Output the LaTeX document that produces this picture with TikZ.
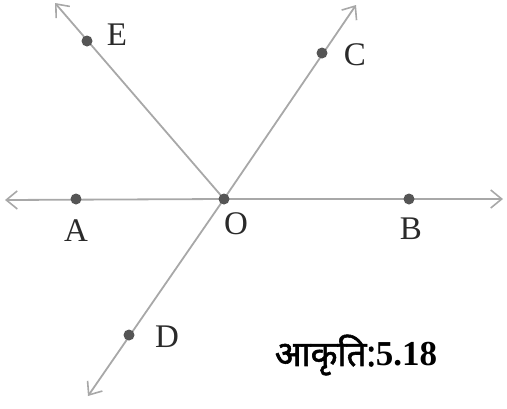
\documentclass[tikz,border=0pt]{standalone}
\usepackage{fontspec}
\setmainfont{Liberation Serif}
\newfontfamily\devfont[Script=Devanagari, FakeBold=1.6]{Noto Sans}
\usetikzlibrary{arrows.meta}
\definecolor{linegray}{HTML}{A8A8A8}
\definecolor{dotgray}{HTML}{555555}
\definecolor{textgray}{HTML}{2A2A2A}
\tikzset{
  ray/.style={draw=linegray, line width=1.8pt, -{Straight Barb[length=11pt,width=18pt,line width=1.6pt]}},
  pt/.style={circle, fill=dotgray, inner sep=0pt, minimum size=11pt},
  lbl/.style={text=textgray, font=\fontsize{33}{36}\selectfont, inner sep=0pt}
}
\begin{document}
\begin{tikzpicture}[x=1pt,y=-1pt]
\useasboundingbox (0,0) rectangle (507,408);
% points
\coordinate (O) at (224,199);
\coordinate (Lt) at (5,200);
\coordinate (Rt) at (503,199);
\coordinate (Et) at (55,3);
\coordinate (Ct) at (356,5);
\coordinate (Dt) at (88,396);
% lines
\draw[ray] (O) -- (Lt);
\draw[ray] (O) -- (Rt);
\draw[ray] (O) -- (Et);
\draw[ray] (O) -- (Ct);
\draw[ray] (O) -- (Dt);
% dots
\node[pt] (o) at (O) {};
\node[pt] (a) at (76,199) {};
\node[pt] (b) at (409,199) {};
\node[pt] (e) at (87,41) {};
\node[pt] (c) at (322,53) {};
\node[pt] (d) at (129,335) {};
% labels
\node[lbl] (lE) at (117,35) {E};
\node[lbl] (lC) at (355,55) {C};
\node[lbl] (lA) at (76,231) {A};
\node[lbl] (lO) at (236,224) {O};
\node[lbl] (lB) at (411,229) {B};
\node[lbl] (lD) at (167,337) {D};
\node[text=black, inner sep=0pt] (cap) at (356,355) {\fontsize{35}{40}\selectfont{\devfont आकृति:}\bfseries 5.18};
\end{tikzpicture}
\end{document}
